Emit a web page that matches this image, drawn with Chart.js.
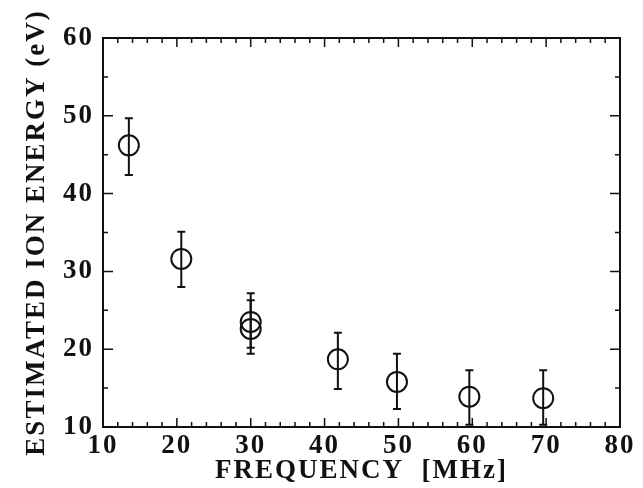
<!DOCTYPE html>
<html>
<head>
<meta charset="utf-8">
<script src="https://cdn.jsdelivr.net/npm/chart.js@4"></script>
<style>
  html, body { margin: 0; padding: 0; background: #fff; }
  #wrap { width: 643px; height: 488px; }
</style>
</head>
<body>
<div id="wrap"><canvas id="grafico" width="643" height="488"></canvas></div>
<script>
// Datos
const frecuencias = [13.5, 20.6, 30, 30, 41.8, 49.8, 59.6, 69.6];
const energias = [46.2, 31.6, 23.5, 22.6, 18.7, 15.8, 13.9, 13.7];
const errBajo = [42.4, 28.0, 20.2, 19.4, 14.9, 12.3, 10.3, 10.3];
const errAlto = [49.7, 35.1, 27.2, 26.3, 22.1, 19.4, 17.3, 17.3];
const ticksX = [10, 20, 30, 40, 50, 60, 70, 80];
const ticksY = [10, 20, 30, 40, 50, 60];

const puntos = frecuencias.map((f, i) => ({ x: f, y: energias[i] }));

// Espaciado de letras como en la figura impresa
const espaciado = {
  id: 'espaciado',
  beforeDraw(chart) { chart.ctx.letterSpacing = '2px'; },
  afterDraw(chart) { chart.ctx.letterSpacing = '0px'; }
};

// Barras de error con las escalas del grafico
const barrasError = {
  id: 'barrasError',
  beforeDatasetsDraw(chart) {
    const { ctx, scales: { x, y } } = chart;
    ctx.save();
    ctx.strokeStyle = '#111';
    ctx.lineWidth = 2;
    frecuencias.forEach((f, i) => {
      const px = x.getPixelForValue(f);
      const y1 = y.getPixelForValue(errBajo[i]);
      const y2 = y.getPixelForValue(errAlto[i]);
      ctx.beginPath();
      ctx.moveTo(px, y1); ctx.lineTo(px, y2);
      ctx.moveTo(px - 4, y1); ctx.lineTo(px + 4, y1);
      ctx.moveTo(px - 4, y2); ctx.lineTo(px + 4, y2);
      ctx.stroke();
    });
    ctx.restore();
  }
};

// Marco con ticks hacia adentro en los 4 lados
const marco = {
  id: 'marco',
  afterDatasetsDraw(chart) {
    const { ctx, chartArea: a, scales: { x, y } } = chart;
    ctx.save();
    ctx.strokeStyle = '#111';
    ctx.lineWidth = 2;
    ctx.strokeRect(a.left, a.top, a.right - a.left, a.bottom - a.top);
    ctx.lineWidth = 1.5;
    ctx.beginPath();
    for (let v = 10; v <= 80; v += 2) {
      const px = x.getPixelForValue(v);
      const len = v % 10 === 0 ? 9 : 5;
      ctx.moveTo(px, a.bottom); ctx.lineTo(px, a.bottom - len);
      ctx.moveTo(px, a.top); ctx.lineTo(px, a.top + len);
    }
    for (let v = 10; v <= 60; v += 5) {
      const py = y.getPixelForValue(v);
      const len = v % 10 === 0 ? 10 : 5;
      ctx.moveTo(a.left, py); ctx.lineTo(a.left + len, py);
      ctx.moveTo(a.right, py); ctx.lineTo(a.right - len, py);
    }
    ctx.stroke();
    ctx.restore();
  }
};

const fuente = { family: "'Liberation Serif', 'DejaVu Serif', serif", weight: 'bold' };

new Chart(document.getElementById('grafico'), {
  type: 'scatter',
  data: {
    datasets: [{
      label: 'Energia',
      data: puntos,
      pointStyle: 'circle',
      pointRadius: 10,
      pointHoverRadius: 10,
      pointBorderWidth: 2,
      pointBackgroundColor: 'rgba(255,255,255,0)',
      pointBorderColor: '#111'
    }]
  },
  options: {
    responsive: false,
    animation: false,
    layout: { padding: { top: 38, right: 23, left: 0, bottom: 0 } },
    plugins: { legend: { display: false }, tooltip: { enabled: false } },
    scales: {
      x: {
        type: 'linear',
        min: 10, max: 80,
        afterBuildTicks: (s) => { s.ticks = ticksX.map(v => ({ value: v })); },
        afterFit: (s) => { s.height = 61; },
        grid: { display: false, drawTicks: false },
        border: { display: false },
        ticks: { color: '#111', padding: 3, font: { ...fuente, size: 27 } },
        title: {
          display: true, text: 'FREQUENCY  [MHz]', color: '#111',
          padding: { top: 0, bottom: 1 },
          font: { ...fuente, size: 27 }
        }
      },
      y: {
        type: 'linear',
        min: 10, max: 60,
        afterBuildTicks: (s) => { s.ticks = ticksY.map(v => ({ value: v })); },
        afterFit: (s) => { s.width = 103; },
        grid: { display: false, drawTicks: false },
        border: { display: false },
        ticks: { color: '#111', padding: 9, font: { ...fuente, size: 27 } },
        title: {
          display: true, text: 'ESTIMATED ION ENERGY (eV)', color: '#111',
          padding: { top: 21, bottom: 0 },
          font: { ...fuente, size: 27 }
        }
      }
    }
  },
  plugins: [espaciado, barrasError, marco]
});
</script>
</body>
</html>
